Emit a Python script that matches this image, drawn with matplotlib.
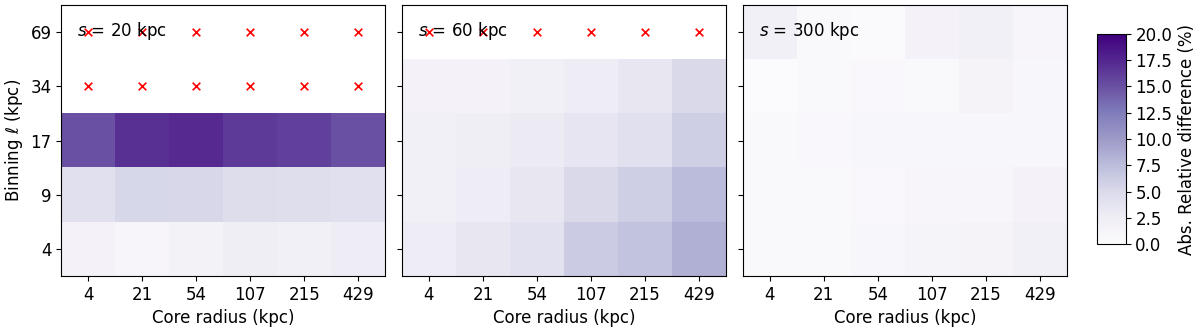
import numpy as np
import matplotlib
matplotlib.use("Agg")
import matplotlib.pyplot as plt

core_radius = ["4", "21", "54", "107", "215", "429"]
binning = ["4", "9", "17", "34", "69"]
scales = [20, 60, 300]

nan = np.nan
# rows: binning 4, 9, 17, 34, 69 (bottom to top); columns: core radius
diff_s20 = [
    [1.5, 1.0, 1.6, 2.2, 2.0, 2.6],
    [4.2, 5.3, 5.2, 4.6, 4.4, 4.2],
    [15.0, 17.0, 17.3, 16.3, 16.0, 15.0],
    [nan, nan, nan, nan, nan, nan],
    [nan, nan, nan, nan, nan, nan],
]
diff_s60 = [
    [2.5, 3.3, 4.0, 6.2, 7.0, 8.5],
    [2.0, 2.5, 3.3, 5.0, 6.0, 7.5],
    [1.8, 2.2, 2.8, 3.5, 4.2, 6.0],
    [1.5, 1.5, 1.8, 2.5, 3.3, 5.0],
    [nan, nan, nan, nan, nan, nan],
]
diff_s300 = [
    [0.5, 0.5, 0.8, 1.2, 1.3, 1.8],
    [0.4, 0.5, 0.6, 1.0, 1.0, 1.5],
    [0.4, 0.6, 0.8, 0.8, 0.8, 0.8],
    [0.2, 0.5, 0.6, 0.4, 1.3, 0.8],
    [2.0, 0.5, 0.3, 1.5, 1.8, 1.0],
]
all_diffs = [diff_s20, diff_s60, diff_s300]

plt.rcParams['font.size'] = 12

fig = plt.figure(figsize=(12, 3.33), dpi=100)
lefts = [0.051, 0.335, 0.619]
axes = [fig.add_axes([l, 0.171, 0.270, 0.814]) for l in lefts]
cax = fig.add_axes([0.914, 0.267, 0.024, 0.631])

for i, (ax, s, d) in enumerate(zip(axes, scales, all_diffs)):
    arr = np.array(d)
    im = ax.imshow(np.ma.masked_invalid(arr), cmap="Purples", vmin=0, vmax=20,
                   origin="lower", aspect="auto")
    yy, xx = np.where(np.isnan(arr))
    ax.scatter(xx, yy, marker="x", color="red", s=30, linewidths=1.2, zorder=3)
    ax.set_xticks(range(len(core_radius)))
    ax.set_xticklabels(core_radius)
    ax.set_yticks(range(len(binning)))
    if i == 0:
        ax.set_yticklabels(binning)
        ax.set_ylabel(r"Binning $\ell$ (kpc)")
    else:
        ax.set_yticklabels([])
    ax.set_xlabel("Core radius (kpc)")
    ax.text(0.05, 0.905, r"$s$ = %d kpc" % s, transform=ax.transAxes,
            va="center", zorder=4)

cb = fig.colorbar(im, cax=cax, ticks=np.arange(0, 20.1, 2.5))
cb.ax.set_yticklabels(["%.1f" % t for t in np.arange(0, 20.1, 2.5)])
cb.set_label("Abs. Relative difference (%)")

fig.savefig("out.png", dpi=100)
